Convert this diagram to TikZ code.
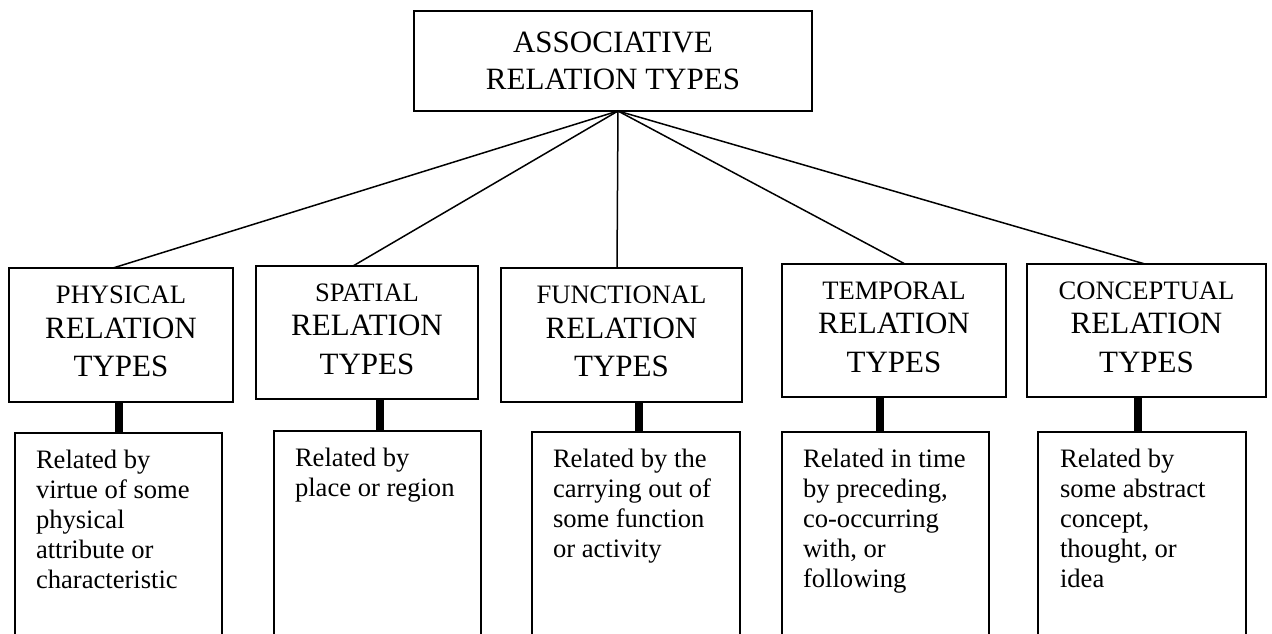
\documentclass[tikz,border=0pt]{standalone}
\usepackage{fontspec}
\setmainfont{Liberation Serif}
\begin{document}
\begin{tikzpicture}[x=1pt,y=-1pt,
  box/.style={draw, line width=1.5pt, inner sep=0pt, outer sep=0pt, anchor=north west},
  topbox/.style={box, align=center, font=\fontsize{31}{37}\selectfont},
  titlebox/.style={box, align=center, text depth=7pt, font=\fontsize{31}{38.5}\selectfont},
  descbox/.style={box, minimum height=230pt},
  dtext/.style={anchor=north west, inner sep=0pt, outer sep=0pt, align=left, font=\fontsize{26.6}{30}\selectfont},
  link/.style={line width=1.5pt},
  bar/.style={line width=8pt}]
\clip (0,0) rectangle (1272,633);
\fill[white] (0,0) rectangle (1272,633);
% top box
\node[topbox, minimum width=398pt, minimum height=100pt] (top) at (414,11) {ASSOCIATIVE\\RELATION TYPES};
\coordinate (apex) at ([xshift=5pt]top.south);
% category boxes
\node[titlebox, minimum width=224pt, minimum height=134pt] (p1) at (9,268) {{\fontsize{26.6}{31}\selectfont PHYSICAL}\\[-4pt]RELATION\\TYPES};
\node[titlebox, minimum width=222pt, minimum height=133pt] (p2) at (256,266) {{\fontsize{26.6}{31}\selectfont SPATIAL}\\[-4pt]RELATION\\TYPES};
\node[titlebox, minimum width=241pt, minimum height=134pt] (p3) at (501,268) {{\fontsize{26.6}{31}\selectfont FUNCTIONAL}\\[-4pt]RELATION\\TYPES};
\node[titlebox, minimum width=224pt, minimum height=133pt] (p4) at (782,264) {{\fontsize{26.6}{31}\selectfont TEMPORAL}\\[-4pt]RELATION\\TYPES};
\node[titlebox, minimum width=239pt, minimum height=133pt] (p5) at (1027,264) {{\fontsize{26.6}{31}\selectfont CONCEPTUAL}\\[-4pt]RELATION\\TYPES};
% description boxes
\node[descbox, minimum width=207pt] (d1) at (15,433) {};
\node[descbox, minimum width=207pt] (d2) at (274,431) {};
\node[descbox, minimum width=208pt] (d3) at (532,432) {};
\node[descbox, minimum width=207pt] (d4) at (782,432) {};
\node[descbox, minimum width=208pt] (d5) at (1038,432) {};
\node[dtext] (t1) at ([xshift=21pt,yshift=-17pt]d1.north west) {Related by\\virtue of some\\physical\\attribute or\\characteristic};
\node[dtext] (t2) at ([xshift=21pt,yshift=-17pt]d2.north west) {Related by\\place or region};
\node[dtext] (t3) at ([xshift=21pt,yshift=-17pt]d3.north west) {Related by the\\carrying out of\\some function\\or activity};
\node[dtext] (t4) at ([xshift=21pt,yshift=-17pt]d4.north west) {Related in time\\by preceding,\\co-occurring\\with, or\\following};
\node[dtext] (t5) at ([xshift=22pt,yshift=-17pt]d5.north west) {Related by\\some abstract\\concept,\\thought, or\\idea};
% thin links
\draw[link] (apex) -- ([xshift=-8pt]p1.north);
\draw[link] (apex) -- ([xshift=-14pt]p2.north);
\draw[link] (apex) -- ([xshift=-4.5pt]p3.north);
\draw[link] (apex) -- ([xshift=11pt]p4.north);
\draw[link] (apex) -- ([xshift=-1.5pt]p5.north);
% thick bars
\draw[bar] ([xshift=0.5pt]d1.north) -- ([xshift=0.5pt]d1.north |- p1.south);
\draw[bar] ([xshift=2.5pt]d2.north) -- ([xshift=2.5pt]d2.north |- p2.south);
\draw[bar] ([xshift=3pt]d3.north) -- ([xshift=3pt]d3.north |- p3.south);
\draw[bar] ([xshift=-5.5pt]d4.north) -- ([xshift=-5.5pt]d4.north |- p4.south);
\draw[bar] ([xshift=-4pt]d5.north) -- ([xshift=-4pt]d5.north |- p5.south);
\end{tikzpicture}
\end{document}
